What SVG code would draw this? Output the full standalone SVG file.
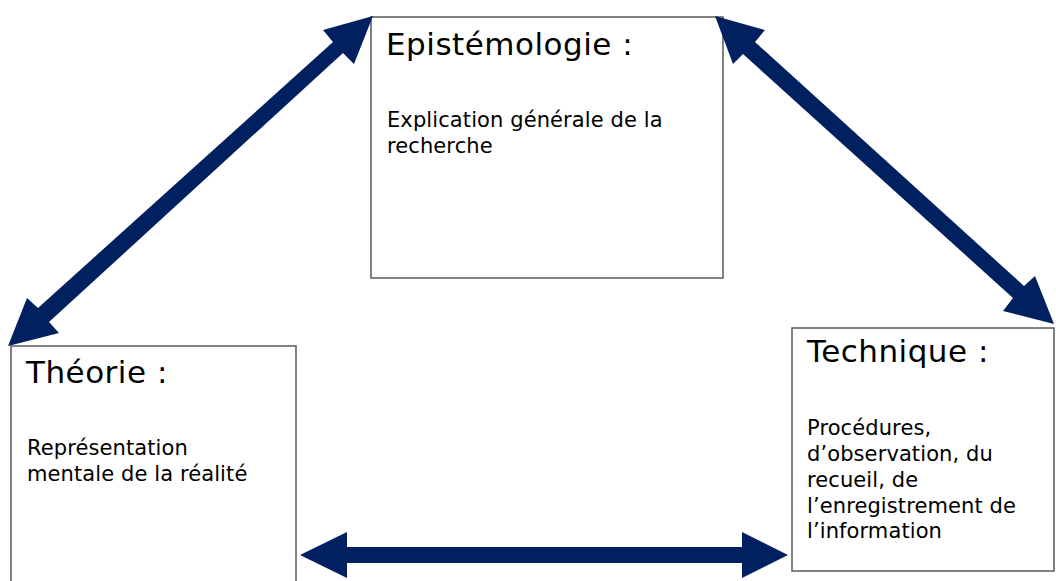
<svg xmlns="http://www.w3.org/2000/svg" width="1056" height="581" viewBox="0 0 1056 581">
<style>
.box{fill:#ffffff;stroke:#5a5a5a;stroke-width:1.5}
.title{font-family:"DejaVu Sans",Verdana,sans-serif;font-size:31px;letter-spacing:0.5px;fill:#000}
.body{font-family:"DejaVu Sans",Verdana,sans-serif;font-size:21px;letter-spacing:0.1px;fill:#000}
.arrow{fill:#002060;stroke:none}
</style>
<rect width="1056" height="581" fill="#ffffff"/>
<g id="epistemologie">
<rect class="box" x="371" y="17" width="352" height="261"/>
<text class="title" x="386" y="55">Epistémologie :</text>
<text class="body" x="387" y="127">Explication générale de la</text>
<text class="body" x="387" y="153">recherche</text>
</g>
<g id="theorie">
<rect class="box" x="11" y="346" width="285" height="250"/>
<text class="title" x="26" y="383">Théorie :</text>
<text class="body" x="27" y="455">Représentation</text>
<text class="body" x="27" y="481">mentale de la réalité</text>
</g>
<g id="technique">
<rect class="box" x="792" y="328" width="262" height="243"/>
<text class="title" x="807" y="362">Technique :</text>
<text class="body" x="807" y="435">Procédures,</text>
<text class="body" x="807" y="461">d’observation, du</text>
<text class="body" x="807" y="487">recueil, de</text>
<text class="body" x="807" y="513">l’enregistrement de</text>
<text class="body" x="807" y="538">l’information</text>
</g>
<g id="connectors">
<polygon class="arrow" points="373,16 354,64 343,53 49,322 59,333 8,346 27,298 38,308 333,42 323,30"/>
<polygon class="arrow" points="715,16 765,30 755,42 1024,286 1035,276 1054,324 1003,311 1013,298 743,54 733,64"/>
<polygon class="arrow" points="300,555 347,532 347,547 742,547 742,532 788,555 742,578 742,563 347,563 347,578"/>
</g>
</svg>
